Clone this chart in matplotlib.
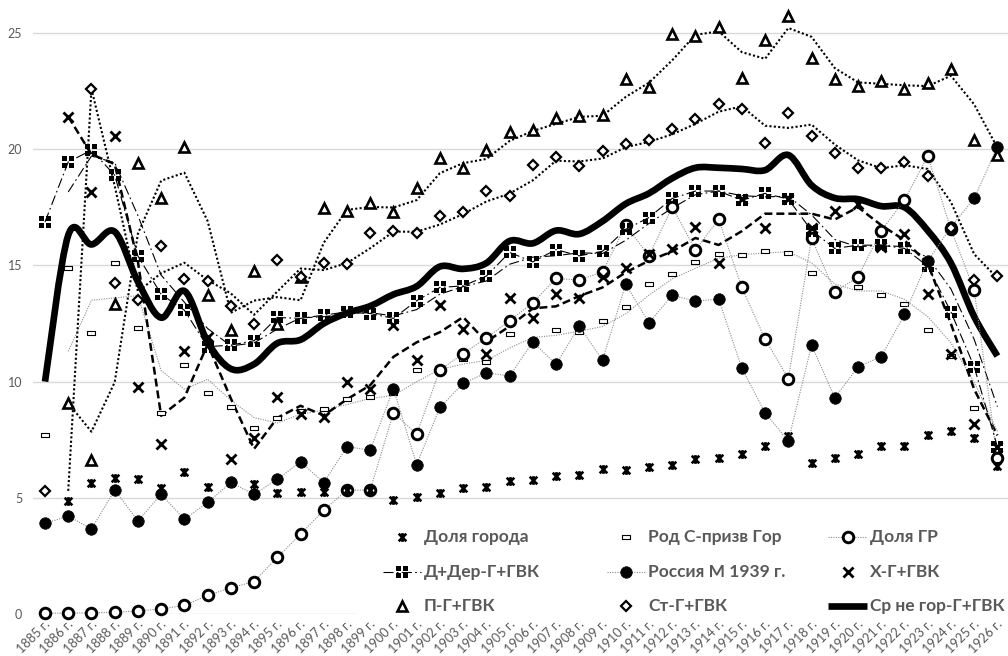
import numpy as np
import pandas as pd
import matplotlib
matplotlib.use("Agg")
import matplotlib.pyplot as plt
from matplotlib.path import Path
from matplotlib.patches import PathPatch, Rectangle
from matplotlib.lines import Line2D
from matplotlib.transforms import ScaledTranslation

plt.rcParams["font.family"] = ["Lato", "DejaVu Sans"]

# --- data ------------------------------------------------------------------
years = list(range(1885, 1927))
year_labels = [f"{y} г." for y in years]
nan = np.nan

dolya_goroda = [nan, 4.86, 5.65, 5.86, 5.8, 5.43, 6.09, 5.45, 5.65, 5.6, 5.2, 5.26, 5.26,
                5.33, 5.33, 4.9, 5.02, 5.22, 5.43, 5.48, 5.72, 5.76, 5.95, 6.0, 6.24, 6.19, 6.34,
                6.4, 6.65, 6.71, 6.88, 7.23, 7.66, 6.48, 6.7, 6.88, 7.24, 7.24, 7.7, 7.88, 7.58, 6.38]
rod_s_prizv = [7.7, 14.9, 12.1, 15.1, 12.3, 8.65, 10.7, 9.5, 8.9, 8.0, 8.44, 8.75, 8.8,
               9.23, 9.32, 9.49, 10.5, 10.54, 10.97, 10.85, 12.04, 11.76, 12.22, 12.12, 12.62, 13.22, 14.22,
               14.62, 15.13, 15.48, 15.44, 15.63, 15.54, 14.68, 13.72, 14.08, 13.72, 13.36, 12.24, 11.1, 8.85, 6.87]
dolya_gr = [0.03, 0.04, 0.05, 0.08, 0.13, 0.22, 0.37, 0.8, 1.13, 1.39, 2.44, 3.43, 4.47,
            5.33, 5.33, 8.66, 7.74, 10.5, 11.2, 11.88, 12.62, 13.39, 14.44, 14.37, 14.72, 16.73, 15.4,
            17.52, 15.66, 16.98, 14.05, 11.83, 10.13, 16.16, 13.86, 14.5, 16.5, 17.8, 19.71, 16.55, 13.94, 6.7]
d_der = [16.87, 19.45, 19.96, 18.88, 15.4, 13.76, 13.07, 11.5, 11.57, 11.76, 12.76, 12.72, 12.86,
         13.0, 12.93, 12.72, 13.48, 14.05, 14.12, 14.54, 15.56, 15.15, 15.68, 15.41, 15.61, 16.55, 17.06,
         17.88, 18.2, 18.2, 17.8, 18.1, 17.85, 16.5, 15.73, 15.87, 15.87, 15.73, 14.97, 13.0, 10.64, 7.2]
rossiya_1939 = [3.9, 4.21, 3.66, 5.33, 4.01, 5.15, 4.07, 4.8, 5.66, 5.15, 5.79, 6.55, 5.65,
                7.2, 7.05, 9.7, 6.43, 8.89, 9.92, 10.38, 10.24, 11.71, 10.74, 12.39, 10.92, 14.19, 12.53,
                13.72, 13.46, 13.55, 10.57, 8.66, 7.44, 11.57, 9.3, 10.64, 11.07, 12.89, 15.18, 16.65, 17.88, 20.1]
kh = [nan, 21.4, 18.16, 20.56, 9.75, 7.31, 11.31, 11.9, 6.65, 7.56, 9.32, 8.6, 8.49,
      9.99, 9.7, 12.43, 10.95, 13.3, 12.25, 11.18, 13.58, 12.72, 13.76, 13.6, 14.5, 14.9, 15.5,
      15.7, 16.66, 15.1, 17.85, 16.6, 17.85, 16.6, 17.35, 17.66, 15.8, 16.37, 13.79, 11.18, 8.17, 7.2]
p = [nan, 9.07, 6.62, 13.33, 19.41, 17.88, 20.1, 13.72, 12.2, 14.77, 12.5, 14.5, 17.45,
     17.33, 17.7, 17.28, 18.34, 19.6, 19.2, 19.96, 20.75, 20.82, 21.36, 21.42, 21.46, 23.04, 22.68,
     24.97, 24.87, 25.27, 23.08, 24.7, 25.73, 23.94, 23.04, 22.71, 22.92, 22.58, 22.85, 23.47, 20.39, 19.74]
st = [5.3, nan, 22.6, 14.25, 13.5, 15.83, 14.4, 14.34, 13.25, 12.5, 15.25, 14.48, 15.12,
      15.08, 16.4, 16.5, 16.4, 17.12, 17.3, 18.2, 17.98, 19.34, 19.67, 19.27, 19.93, 20.24, 20.39,
      20.89, 21.29, 21.94, 21.75, 20.27, 21.56, 20.56, 19.84, 19.2, 19.17, 19.45, 18.85, 16.6, 14.37, 14.54]
sr_ne_gor = [10.0, 16.3, 15.9, 16.45, 14.3, 12.75, 13.9, 11.7, 10.55, 10.75, 11.65, 11.8, 12.5,
             12.95, 13.25, 13.75, 14.1, 14.95, 14.85, 15.1, 16.05, 15.95, 16.5, 16.35, 16.9, 17.65, 18.1,
             18.75, 19.2, 19.2, 19.15, 19.1, 19.75, 18.45, 17.9, 17.85, 17.55, 17.5, 16.5, 15.1, 12.8, 11.1]

GRAY_TXT = "#595959"
GRID = "#d9d9d9"
THIN_GRAY = "#8c8c8c"


def moving_avg(values):
    """2-period moving-average trendline, as the spreadsheet draws it."""
    m = pd.Series(values, dtype=float).rolling(2, min_periods=1).mean().values
    m[0] = np.nan
    return m


def smooth_path(xs, ys):
    """Bezier path through the points (spreadsheet 'smoothed line')."""
    pts = np.column_stack([xs, ys]).astype(float)
    n = len(pts)
    verts, codes = [pts[0]], [Path.MOVETO]
    for i in range(n - 1):
        p0, p1 = pts[max(i - 1, 0)], pts[i]
        p2, p3 = pts[i + 1], pts[min(i + 2, n - 1)]
        verts += [p1 + (p2 - p0) / 6, p2 - (p3 - p1) / 6, p2]
        codes += [Path.CURVE4] * 3
    return Path(verts, codes)


# custom markers
M, L = Path.MOVETO, Path.LINETO
star_marker = Path([(-1, -1), (1, 1), (-1, 1), (1, -1), (0, -1.15), (0, 1.15)],
                   [M, L, M, L, M, L])
quad = []
quad_codes = []
for sx in (-1, 1):
    for sy in (-1, 1):
        sq = [(sx * 0.14, sy * 0.14), (sx * 1, sy * 0.14), (sx * 1, sy * 1), (sx * 0.14, sy * 1), (0, 0)]
        quad += sq
        quad_codes += [M, L, L, L, Path.CLOSEPOLY]
quad_marker = Path(quad, quad_codes)
rect_marker = Path([(-1, -0.38), (1, -0.38), (1, 0.38), (-1, 0.38), (0, 0)], [M, L, L, L, Path.CLOSEPOLY])

# styles shared by chart and legend
st_star = dict(marker=star_marker, ms=6.3, mew=1.9, mec="black", color="black", linestyle="none")
st_rect = dict(marker=rect_marker, ms=6.2, mew=0.8, mec="black", mfc="white", linestyle="none")
st_gr = dict(marker="o", ms=7.6, mew=2.1, mec="black", mfc="white", color=THIN_GRAY,
             lw=0.8, linestyle=(0, (1, 1.2)))
st_dder = dict(marker=quad_marker, ms=8.6, mew=0, mfc="black", mec="black", color="black",
               lw=0.8, linestyle=(0, (9, 3, 1.5, 3)))
st_ros = dict(marker="o", ms=8.3, mew=0.5, mec="black", mfc="black", color=THIN_GRAY,
              lw=0.8, linestyle=(0, (1, 1.2)))
st_kh = dict(marker="x", ms=6.5, mew=2.0, mec="black", color="black", linestyle="none")
st_p = dict(marker="^", ms=7.2, mew=1.9, mec="black", mfc="white", linestyle="none")
st_st = dict(marker="D", ms=5.6, mew=1.6, mec="black", mfc="white", linestyle="none")
st_sr = dict(color="black", lw=4.8, solid_capstyle="butt")

W, H = 1008, 656
fig = plt.figure(figsize=(W / 100, H / 100), dpi=100)
ax = fig.add_axes([33.4 / W, (H - 614) / H, 975.6 / W, 614 / H])
x = np.arange(len(years))

ax.set_xlim(-0.5, len(years) - 0.5)
ax.set_ylim(0, 614 / 23.24)
ax.set_yticks([0, 5, 10, 15, 20, 25])
ax.yaxis.grid(True, color=GRID, lw=1.0)
ax.set_axisbelow(True)
for s in ax.spines.values():
    s.set_visible(False)
ax.tick_params(axis="both", length=0, labelcolor=GRAY_TXT, labelsize=9)
ax.tick_params(axis="y", pad=8)
ax.set_xticks(x)
ax.set_xticklabels(year_labels, rotation=45, ha="right", va="top", rotation_mode="anchor",
                   fontsize=9.2)
ax.tick_params(axis="x", pad=3)
shift = ScaledTranslation(-1 / 100, 0, fig.dpi_scale_trans)
for lbl in ax.get_xticklabels():
    lbl.set_transform(lbl.get_transform() + shift)

# thick smoothed average line (under markers)
ax.add_patch(PathPatch(smooth_path(x, sr_ne_gor), fill=False, edgecolor="black",
                       lw=st_sr["lw"], capstyle="butt", joinstyle="round", zorder=2))

# trendlines (2-period moving average)
ax.plot(x, moving_avg(rod_s_prizv), color=THIN_GRAY, lw=0.8, linestyle=(0, (1, 1.2)), zorder=2.2)
ax.plot(x, moving_avg(d_der), color="black", lw=0.8, linestyle=(0, (9, 3, 1.5, 3)), zorder=2.2)
ax.plot(x, moving_avg(kh), color="black", lw=1.8, linestyle=(0, (3.2, 1.6)), zorder=2.3)
ax.plot(x, moving_avg(p), color="black", lw=1.5, linestyle=(0, (1, 1.1)), zorder=2.3)
ax.plot(x, moving_avg(st), color="black", lw=1.5, linestyle=(0, (1, 1.1)), zorder=2.3)

# series
ax.plot(x, rod_s_prizv, zorder=3, clip_on=False, **st_rect)
ax.plot(x, dolya_gr, zorder=3.1, clip_on=False, **st_gr)
ax.plot(x, dolya_goroda, zorder=3.2, clip_on=False, **st_star)
ax.plot(x, d_der, zorder=3.3, clip_on=False, **st_dder)
ax.plot(x, rossiya_1939, zorder=3.4, clip_on=False, **st_ros)
ax.plot(x, kh, zorder=3.5, clip_on=False, **st_kh)
ax.plot(x, p, zorder=3.6, clip_on=False, **st_p)
ax.plot(x, st, zorder=3.7, clip_on=False, **st_st)

# legend (laid out like the spreadsheet legend: 3 x 3 grid, white box)
def fx(px):
    return px / W


def fy(py):
    return 1 - py / H


fig.add_artist(Rectangle((fx(358), fy(622)), fx(1008) - fx(358), fy(512) - fy(622),
                         transform=fig.transFigure, facecolor="white", edgecolor="none", zorder=5))

entries = [
    ("Доля города", st_star, False), ("Род С-призв Гор", st_rect, False), ("Доля ГР", st_gr, True),
    ("Д+Дер-Г+ГВК", st_dder, True), ("Россия М 1939 г.", st_ros, True), ("Х-Г+ГВК", st_kh, False),
    ("П-Г+ГВК", st_p, False), ("Ст-Г+ГВК", st_st, False), ("Ср не гор-Г+ГВК", st_sr, True),
]
col_handle = [(383, 421), (607, 645), (828, 867)]
row_y = [537, 572, 606]
for k, (label, style, has_line) in enumerate(entries):
    r, c = divmod(k, 3)
    x0, x1 = col_handle[c]
    yy = fy(row_y[r])
    if has_line:
        kw = {kk: vv for kk, vv in style.items() if kk not in ("marker", "ms", "mew", "mec", "mfc")}
        fig.add_artist(Line2D([fx(x0), fx(x1)], [yy, yy], transform=fig.transFigure, zorder=6, **kw))
    if "marker" in style:
        kw = {kk: vv for kk, vv in style.items() if kk not in ("lw", "linestyle", "color")}
        kw["linestyle"] = "none"
        fig.add_artist(Line2D([fx((x0 + x1) / 2)], [yy], transform=fig.transFigure, zorder=7,
                              color="black", **kw))
    fig.text(fx(x1 + 3), yy, label, ha="left", va="center", fontsize=12.5,
             fontweight="bold", color=GRAY_TXT, zorder=7)

fig.savefig("out.png", dpi=100)
